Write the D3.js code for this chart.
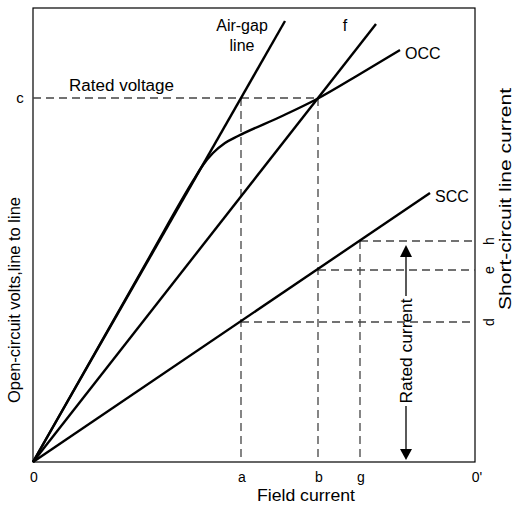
<!DOCTYPE html>
<html>
<head>
<meta charset="utf-8">
<script src="https://cdn.jsdelivr.net/npm/d3@7"></script>
<style>
  html, body { margin: 0; padding: 0; background: #fff; }
  text { font-family: "Liberation Sans", Arial, sans-serif; fill: #000; }
</style>
</head>
<body>
<svg id="chart" width="514" height="506"></svg>
<script>
// ---- data (field current on x, volts / current on y) ----
const xTickLabels = ["0", "a", "b", "g", "0'"];
const xTickValues = [0, 208, 285, 327, 442];
const rightLabels = ["h", "e", "d"];
const rightValues = [221, 192, 140];
const ratedVoltage = 364;
const ratedVoltageLabel = "c";

const airGapX = [0, 252];
const airGapY = [0, 441];
const occX = [0, 117, 160, 170, 180, 192, 205, 247, 284, 327, 367];
const occY = [0, 206, 281, 297, 309, 319, 326, 345, 363, 388, 412];
const fLineX = [0, 343];
const fLineY = [0, 438];
const sccX = [0, 397];
const sccY = [0, 269];
const ratedCurrentTop = 217;
const ratedCurrentBottom = 2;
const ratedCurrentX = 373;

// ---- layout ----
const svg = d3.select("#chart");
const x = d3.scaleLinear().domain([0, 442]).range([33, 475]);
const y = d3.scaleLinear().domain([0, 454]).range([462, 8]);

const zip = (a, b) => a.map((v, i) => [v, b[i]]);
const line = d3.line().x(d => x(d[0])).y(d => y(d[1]));
const smooth = d3.line().x(d => x(d[0])).y(d => y(d[1])).curve(d3.curveMonotoneX);

// frame
svg.append("rect").attr("x", x(0)).attr("y", y(454))
  .attr("width", x(442) - x(0)).attr("height", y(0) - y(454))
  .attr("fill", "none").attr("stroke", "#000").attr("stroke-width", 1.2);

// dashed construction lines
const dashed = [
  [[0, ratedVoltage], [xTickValues[2], ratedVoltage]],
  [[xTickValues[1], ratedVoltage], [xTickValues[1], 0]],
  [[xTickValues[2], ratedVoltage], [xTickValues[2], 0]],
  [[xTickValues[3], rightValues[0]], [xTickValues[3], 0]],
  [[xTickValues[3], rightValues[0]], [442, rightValues[0]]],
  [[xTickValues[2], rightValues[1]], [442, rightValues[1]]],
  [[xTickValues[1], rightValues[2]], [442, rightValues[2]]]
];
svg.append("g").selectAll("path").data(dashed).join("path")
  .attr("d", line).attr("fill", "none").attr("stroke", "#444")
  .attr("stroke-width", 1.3).attr("stroke-dasharray", "8,5");

// curves
const curveG = svg.append("g").attr("fill", "none").attr("stroke", "#000")
  .attr("stroke-width", 2.4).attr("stroke-linecap", "butt");
curveG.append("path").attr("d", line(zip(airGapX, airGapY)));
curveG.append("path").attr("d", smooth(zip(occX, occY)));
curveG.append("path").attr("d", line(zip(fLineX, fLineY)));
curveG.append("path").attr("d", line(zip(sccX, sccY)));

// rated current arrow
const ax = x(ratedCurrentX);
const yTop = y(ratedCurrentTop), yBot = y(ratedCurrentBottom);
const arrowG = svg.append("g");
arrowG.append("line").attr("x1", ax).attr("x2", ax).attr("y1", yTop + 8).attr("y2", 296)
  .attr("stroke", "#000").attr("stroke-width", 1.3);
arrowG.append("line").attr("x1", ax).attr("x2", ax).attr("y1", 406).attr("y2", yBot - 8)
  .attr("stroke", "#000").attr("stroke-width", 1.3);
arrowG.append("path").attr("d", `M${ax},${yTop} L${ax - 6},${yTop + 12} L${ax + 6},${yTop + 12} Z`).attr("fill", "#000");
arrowG.append("path").attr("d", `M${ax},${yBot} L${ax - 6},${yBot - 11} L${ax + 6},${yBot - 11} Z`).attr("fill", "#000");
arrowG.append("text").attr("transform", `translate(${ax},351) rotate(-90)`)
  .attr("text-anchor", "middle").attr("dominant-baseline", "central")
  .attr("font-size", 16).attr("textLength", 105).attr("lengthAdjust", "spacingAndGlyphs")
  .text("Rated current");

// bottom labels
svg.append("g").selectAll("text").data(xTickLabels).join("text")
  .attr("x", (d, i) => x(xTickValues[i]) + (i === 4 ? 2 : 1))
  .attr("y", 482).attr("text-anchor", "middle").attr("font-size", 14)
  .text(d => d);
svg.append("text").attr("x", 306).attr("y", 501).attr("text-anchor", "middle")
  .attr("font-size", 16).attr("textLength", 98).attr("lengthAdjust", "spacingAndGlyphs")
  .text("Field current");

// right labels (rotated letters)
svg.append("g").selectAll("text").data(rightLabels).join("text")
  .attr("transform", (d, i) => `translate(489,${y(rightValues[i])}) rotate(-90)`)
  .attr("text-anchor", "middle").attr("dominant-baseline", "central")
  .attr("font-size", 14).text(d => d);

// axis titles
svg.append("text").attr("transform", "translate(14,300) rotate(-90)")
  .attr("text-anchor", "middle").attr("dominant-baseline", "central")
  .attr("font-size", 16).attr("textLength", 206).attr("lengthAdjust", "spacingAndGlyphs")
  .text("Open-circuit volts,line to line");
svg.append("text").attr("transform", "translate(505,199) rotate(-90)")
  .attr("text-anchor", "middle").attr("dominant-baseline", "central")
  .attr("font-size", 16).attr("textLength", 222).attr("lengthAdjust", "spacingAndGlyphs")
  .text("Short-circuit line current");

// annotations
svg.append("text").attr("x", 20).attr("y", y(ratedVoltage) + 5).attr("text-anchor", "middle")
  .attr("font-size", 15).text(ratedVoltageLabel);
svg.append("text").attr("x", 69).attr("y", 91).attr("font-size", 16)
  .attr("textLength", 105).attr("lengthAdjust", "spacingAndGlyphs").text("Rated voltage");
svg.append("text").attr("x", 242).attr("y", 31).attr("text-anchor", "middle").attr("font-size", 16).text("Air-gap");
svg.append("text").attr("x", 242).attr("y", 51).attr("text-anchor", "middle").attr("font-size", 16).text("line");
svg.append("text").attr("x", 345).attr("y", 31).attr("text-anchor", "middle").attr("font-size", 16).text("f");
svg.append("text").attr("x", 405).attr("y", 59).attr("font-size", 16).text("OCC");
svg.append("text").attr("x", 435).attr("y", 202).attr("font-size", 16).text("SCC");
</script>
</body>
</html>
